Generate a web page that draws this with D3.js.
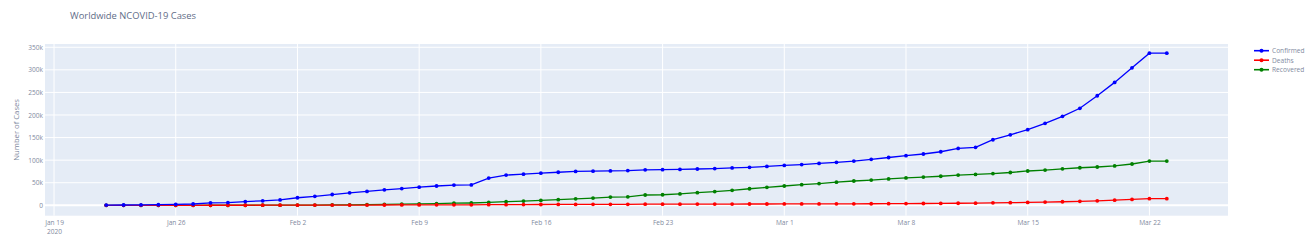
<!DOCTYPE html>
<html>
<head>
<meta charset="utf-8">
<script src="https://cdn.jsdelivr.net/npm/d3@7"></script>
<style>
  body { margin: 0; background: #fff; }
  svg { font-family: "Open Sans", sans-serif; }
</style>
</head>
<body>
<div id="chart"></div>
<script>
// JHU daily global totals, Jan 22 - Mar 23 2020
var startDate = Date.UTC(2020, 0, 22);
var dayCount = 62;

var confirmed = [555, 653, 941, 1434, 2118, 2927, 5578, 6166, 8234, 9927,
  12038, 16787, 19881, 23892, 27635, 30817, 34391, 37120, 40150, 42762, 44802, 45221, 60368, 66885, 69030,
  71224, 73258, 75136, 75639, 76197, 76819, 78572, 78958, 79561, 80406, 81388, 82746, 84112, 86011,
  88369, 90306, 92840, 95120, 97886, 101801, 105847, 109821, 113590, 118620, 125875, 128352, 145205,
  156101, 167454, 181574, 197102, 214821, 242570, 272208, 304507, 336953, 336953];

var deaths = [17, 18, 26, 42, 56, 82, 131, 133, 171, 213,
  259, 362, 426, 492, 564, 634, 719, 806, 906, 1013, 1113, 1118, 1371, 1523, 1666,
  1770, 1868, 2007, 2122, 2247, 2251, 2458, 2469, 2629, 2708, 2770, 2814, 2872, 2941,
  2996, 3085, 3160, 3254, 3348, 3460, 3558, 3803, 3996, 4262, 4615, 4720, 5404,
  5819, 6440, 7126, 7905, 8733, 9867, 11299, 12973, 14651, 14651];

var recovered = [28, 30, 36, 39, 52, 61, 107, 126, 143, 222,
  284, 472, 623, 852, 1124, 1487, 2011, 2616, 3244, 3946, 4683, 5150, 6295, 8058, 9395,
  10865, 12583, 14352, 16121, 18177, 18890, 22886, 23394, 25227, 27905, 30384, 33277, 36711, 39782,
  42716, 45602, 48228, 51170, 53796, 55865, 58358, 60694, 62494, 64404, 67003, 68324, 70251,
  72624, 76034, 78088, 80840, 83207, 84854, 87256, 91499, 97882, 97882];

var seriesNames = ["Confirmed", "Deaths", "Recovered"];
var seriesColors = ["blue", "red", "green"];
var yTicks = [0, 50000, 100000, 150000, 200000, 250000, 300000, 350000];

var dates = d3.range(dayCount).map(i => new Date(startDate + i * 864e5));
var series = [confirmed, deaths, recovered].map((vals, k) => ({
  name: seriesNames[k],
  color: seriesColors[k],
  points: vals.map((v, i) => ({ date: dates[i], value: v }))
}));

var svgWidth = 1313;
var svgHeight = 252;
var margin = { top: 44, right: 85, bottom: 36.3, left: 45 };
var width = svgWidth - margin.left - margin.right;
var height = svgHeight - margin.top - margin.bottom;

var textColor = "#7f8aa0";

var svg = d3.select("#chart")
  .append("svg")
  .attr("width", svgWidth)
  .attr("height", svgHeight);

var pad = 3.52 * 864e5;
var xScale = d3.scaleUtc()
  .domain([new Date(dates[0].getTime() - pad), new Date(dates[dayCount - 1].getTime() + pad)])
  .range([0, width]);

var yScale = d3.scaleLinear()
  .domain([-23000, 357200])
  .range([height, 0]);

var chartGroup = svg.append("g")
  .attr("transform", `translate(${margin.left}, ${margin.top})`);

chartGroup.append("rect")
  .attr("width", width)
  .attr("height", height)
  .attr("fill", "#E5ECF6");

var xTicks = d3.utcWeek.every(1).range(xScale.domain()[0], xScale.domain()[1]);

// gridlines
chartGroup.selectAll(".vgrid")
  .data(xTicks)
  .enter()
  .append("line")
  .attr("x1", d => xScale(d))
  .attr("x2", d => xScale(d))
  .attr("y1", 0)
  .attr("y2", height)
  .attr("stroke", "#fff")
  .attr("stroke-width", 1);

chartGroup.selectAll(".hgrid")
  .data(yTicks)
  .enter()
  .append("line")
  .attr("x1", 0)
  .attr("x2", width)
  .attr("y1", d => yScale(d))
  .attr("y2", d => yScale(d))
  .attr("stroke", "#fff")
  .attr("stroke-width", d => d === 0 ? 2 : 1);

// axes
var bottomAxis = d3.axisBottom(xScale)
  .tickValues(xTicks)
  .tickSize(0)
  .tickPadding(5)
  .tickFormat(d3.utcFormat("%b %-d"));

var xAxisG = chartGroup.append("g")
  .attr("transform", `translate(0, ${height})`)
  .call(bottomAxis);
xAxisG.select(".domain").remove();
xAxisG.selectAll("text")
  .attr("fill", textColor)
  .style("font-size", "6.6px")
  .style("font-family", "'Open Sans', sans-serif");
xAxisG.selectAll(".tick").filter((d, i) => i === 0).select("text")
  .append("tspan")
  .attr("x", 0)
  .attr("dy", "1.25em")
  .text("2020");

var leftAxis = d3.axisLeft(yScale)
  .tickValues(yTicks)
  .tickSize(0)
  .tickPadding(2)
  .tickFormat(d => d === 0 ? "0" : (d / 1000) + "k");

var yAxisG = chartGroup.append("g").call(leftAxis);
yAxisG.select(".domain").remove();
yAxisG.selectAll("text")
  .attr("fill", textColor)
  .style("font-size", "6.6px")
  .style("font-family", "'Open Sans', sans-serif");

// lines + markers
var line = d3.line()
  .x(d => xScale(d.date))
  .y(d => yScale(d.value));

series.slice().reverse().forEach(function(s) {
  chartGroup.append("path")
    .datum(s.points)
    .attr("fill", "none")
    .attr("stroke", s.color)
    .attr("stroke-width", 1.3)
    .attr("d", line);
  chartGroup.selectAll(null)
    .data(s.points)
    .enter()
    .append("circle")
    .attr("cx", d => xScale(d.date))
    .attr("cy", d => yScale(d.value))
    .attr("r", 1.9)
    .attr("fill", s.color);
});

// titles
svg.append("text")
  .attr("x", 70)
  .attr("y", 19)
  .attr("fill", "#5f6d88")
  .style("font-size", "9.4px")
  .text("Worldwide NCOVID-19 Cases");

svg.append("text")
  .attr("transform", `translate(19, ${margin.top + height / 2}) rotate(-90)`)
  .attr("text-anchor", "middle")
  .attr("fill", textColor)
  .style("font-size", "7.7px")
  .text("Number of Cases");

// legend
var legend = svg.append("g")
  .attr("transform", "translate(1254, 50.7)");

var items = legend.selectAll("g")
  .data(series)
  .enter()
  .append("g")
  .attr("transform", (d, i) => `translate(0, ${i * 9.5})`);

items.append("line")
  .attr("x1", 0).attr("x2", 15)
  .attr("stroke", d => d.color)
  .attr("stroke-width", 1.6);
items.append("circle")
  .attr("cx", 7.5)
  .attr("r", 2)
  .attr("fill", d => d.color);
items.append("text")
  .attr("x", 18)
  .attr("dy", "0.35em")
  .attr("fill", textColor)
  .style("font-size", "6.6px")
  .text(d => d.name);
</script>
</body>
</html>
